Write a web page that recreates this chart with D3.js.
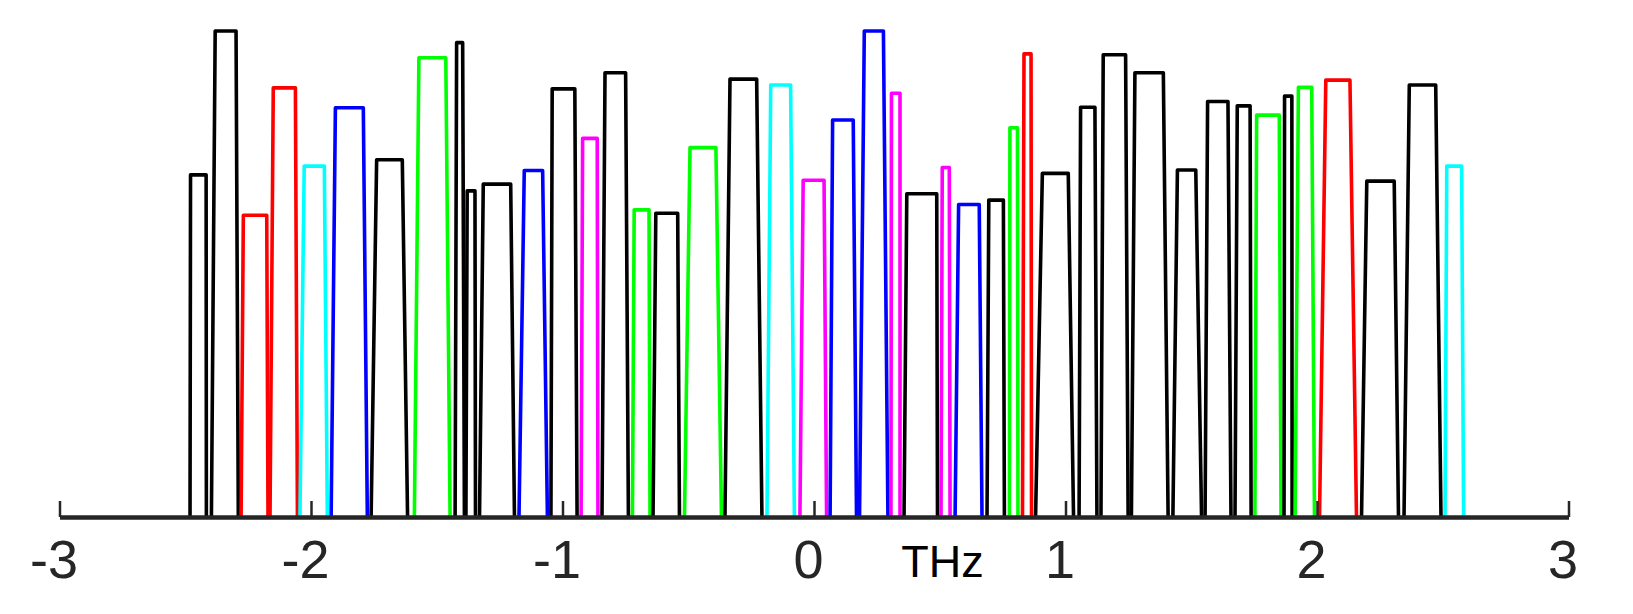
<!DOCTYPE html>
<html>
<head>
<meta charset="utf-8">
<script src="https://cdn.jsdelivr.net/npm/d3@7"></script>
<style>
  body { margin: 0; background: #fff; }
  svg { display: block; }
</style>
</head>
<body>
<script>
// colour code of every band, left to right (matlab letters)
const bandColor = ["k","k","r","r","c","b","k","g","k","k",
                   "k","b","k","m","k","g","k","g","k","c",
                   "m","b","b","m","k","m","b","k","g","r",
                   "k","k","k","k","k","k","k","g","k","g",
                   "r","k","k","c"];

// band edges in THz: foot and shoulder on the low side, shoulder and foot on the high side
const footLo = [-2.481,-2.396,-2.278,-2.163,-2.044,-1.920,-1.761,-1.589,-1.427,-1.384,
                -1.330,-1.173,-1.046,-0.926,-0.843,-0.722,-0.640,-0.515,-0.354,-0.187,
                -0.056,0.064,0.181,0.306,0.358,0.505,0.561,0.688,0.777,0.829,
                0.881,1.054,1.141,1.262,1.427,1.555,1.674,1.753,1.869,1.913,
                2.010,2.177,2.346,2.509];
const topLo = [-2.479,-2.381,-2.269,-2.150,-2.027,-1.903,-1.739,-1.571,-1.421,-1.379,
               -1.315,-1.152,-1.041,-0.920,-0.831,-0.715,-0.629,-0.493,-0.334,-0.172,
               -0.043,0.074,0.200,0.308,0.369,0.510,0.575,0.695,0.779,0.835,
               0.908,1.060,1.150,1.276,1.445,1.565,1.683,1.760,1.871,1.926,
               2.035,2.198,2.367,2.516];
const topHi = [-2.417,-2.298,-2.176,-2.062,-1.947,-1.792,-1.637,-1.464,-1.397,-1.348,
               -1.206,-1.079,-0.951,-0.862,-0.749,-0.656,-0.542,-0.390,-0.228,-0.093,
               0.040,0.156,0.276,0.342,0.488,0.538,0.657,0.753,0.809,0.863,
               1.011,1.117,1.239,1.389,1.518,1.646,1.734,1.850,1.900,1.979,
               2.131,2.307,2.472,2.575];
const footHi = [-2.416,-2.289,-2.171,-2.054,-1.935,-1.776,-1.616,-1.447,-1.390,-1.346,
                -1.191,-1.060,-0.942,-0.859,-0.738,-0.652,-0.535,-0.368,-0.207,-0.078,
                0.050,0.169,0.294,0.342,0.491,0.541,0.668,0.757,0.811,0.865,
                1.032,1.125,1.249,1.408,1.541,1.658,1.738,1.857,1.901,1.990,
                2.157,2.324,2.493,2.583];

// relative level of each band
const level = [0.704,1.000,0.621,0.883,0.722,0.842,0.735,0.945,0.976,0.671,
               0.685,0.713,0.881,0.779,0.914,0.632,0.625,0.760,0.901,0.889,
               0.693,0.817,1.000,0.872,0.665,0.719,0.643,0.652,0.801,0.953,
               0.707,0.843,0.951,0.914,0.714,0.855,0.846,0.827,0.866,0.884,
               0.899,0.691,0.889,0.722];

const tickValues = [-3, -2, -1, 0, 1, 2, 3];
const unitLabel = "THz";
const unitLabelAt = 0.511;

const width = 1633;
const height = 614;

const svg = d3.select("body")
  .append("svg")
  .attr("width", width)
  .attr("height", height)
  .style("background", "#fff");

const x = d3.scaleLinear().domain([-3, 3]).range([59.5, 1568.5]);
const y = d3.scaleLinear().domain([0, 1]).range([517, 31]);

const colour = d3.scaleOrdinal()
  .domain(["k", "r", "c", "b", "g", "m"])
  .range(["#000000", "#ff0000", "#00ffff", "#0000ff", "#00ff00", "#ff00ff"]);

// build band table from the arrays
const bands = bandColor.map((c, i) => ({
  c: c,
  pts: [[footLo[i], 0], [topLo[i], level[i]], [topHi[i], level[i]], [footHi[i], 0]]
}));

const line = d3.line().x(d => x(d[0])).y(d => y(d[1]));

svg.append("g")
  .selectAll("path")
  .data(bands)
  .enter()
  .append("path")
  .attr("d", d => line(d.pts))
  .attr("fill", "none")
  .attr("stroke", d => colour(d.c))
  .attr("stroke-width", 3.6)
  .attr("stroke-linejoin", "round");

// axis with ticks pointing up
const axis = svg.append("g")
  .attr("transform", `translate(0,${y(0)})`)
  .call(d3.axisBottom(x)
    .tickValues(tickValues)
    .tickFormat(d => String(d))
    .tickSize(-16)
    .tickSizeOuter(0)
    .tickPadding(23));

axis.select(".domain")
  .attr("stroke", "#262626")
  .attr("stroke-width", 4.5);
axis.selectAll(".tick line")
  .attr("stroke", "#262626")
  .attr("stroke-width", 2.5);
axis.selectAll(".tick text")
  .attr("fill", "#262626")
  .attr("dx", -6)
  .style("font-family", "'Liberation Sans', Arial, sans-serif")
  .style("font-size", "54px");

svg.append("text")
  .attr("x", x(unitLabelAt))
  .attr("y", 577)
  .attr("text-anchor", "middle")
  .style("font-family", "'Liberation Sans', Arial, sans-serif")
  .style("font-size", "45px")
  .attr("fill", "#000")
  .text(unitLabel);
</script>
</body>
</html>
